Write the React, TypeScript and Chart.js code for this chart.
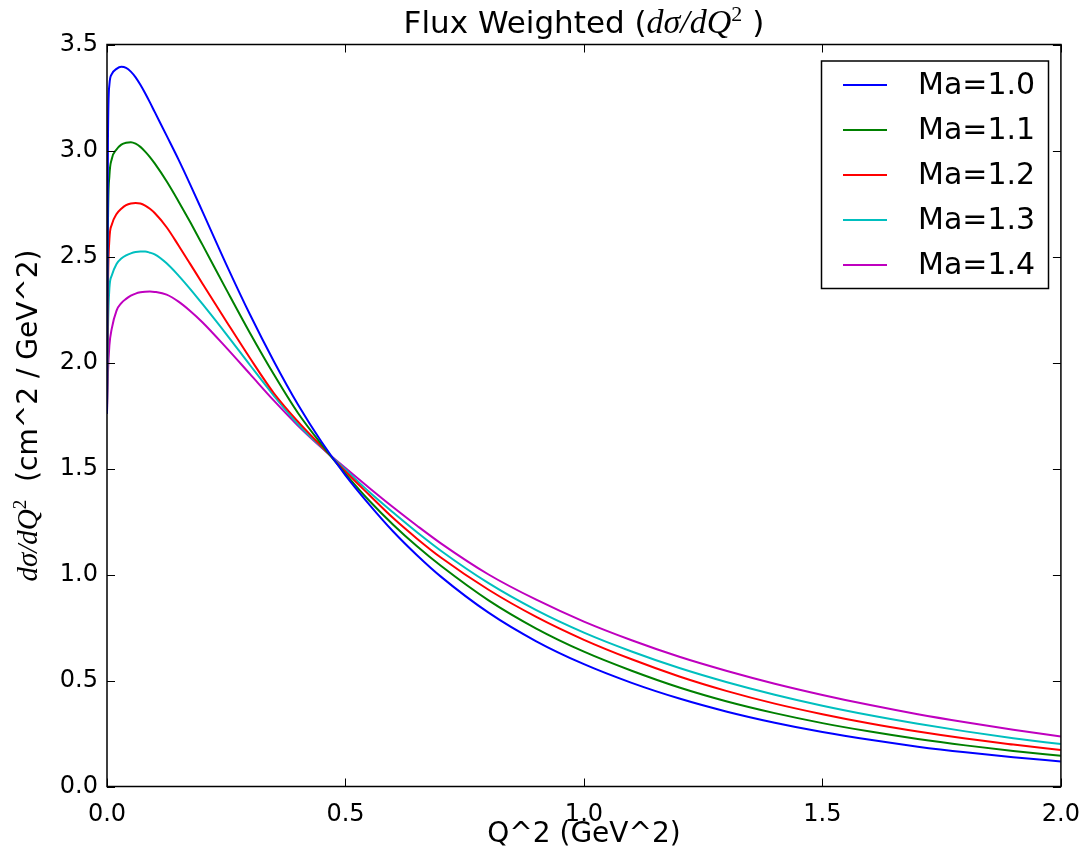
import React, { useEffect, useRef } from "react";
import { Chart, registerables } from "chart.js";

Chart.register(...registerables);

// ---- data ----
const q2 = [
  0, 0.002, 0.005, 0.01, 0.02, 0.03, 0.04, 0.05, 0.06, 0.07, 0.08, 0.09, 0.1,
  0.125, 0.15, 0.175, 0.2, 0.25, 0.3, 0.35, 0.4, 0.45, 0.5, 0.55, 0.6, 0.65,
  0.7, 0.8, 0.9, 1.0, 1.1, 1.2, 1.3, 1.4, 1.5, 1.6, 1.7, 1.8, 1.9, 2.0,
];

const ma10 = [
  1.76, 3.05, 3.31, 3.36, 3.385, 3.395, 3.39, 3.372, 3.345, 3.31, 3.27, 3.227, 3.182,
  3.07, 2.957, 2.837, 2.713, 2.463, 2.225, 2.005, 1.803, 1.625, 1.468, 1.33, 1.203, 1.091,
  0.99, 0.82, 0.685, 0.577, 0.489, 0.415, 0.353, 0.301, 0.257, 0.22, 0.188, 0.161, 0.138, 0.118,
];

const ma11 = [
  1.76, 2.65, 2.88, 2.96, 3.005, 3.028, 3.037, 3.039, 3.032, 3.017, 2.995, 2.969, 2.939,
  2.855, 2.76, 2.66, 2.556, 2.345, 2.138, 1.943, 1.763, 1.613, 1.475, 1.348, 1.235, 1.133,
  1.041, 0.878, 0.745, 0.636, 0.546, 0.467, 0.401, 0.346, 0.299, 0.259, 0.224, 0.194, 0.168, 0.145,
];

const ma12 = [
  1.76, 2.35, 2.58, 2.65, 2.7, 2.725, 2.742, 2.75, 2.752, 2.75, 2.74, 2.725, 2.705,
  2.638, 2.552, 2.463, 2.373, 2.195, 2.02, 1.855, 1.722, 1.604, 1.486, 1.375, 1.266, 1.169,
  1.08, 0.928, 0.8, 0.692, 0.6, 0.519, 0.45, 0.391, 0.341, 0.297, 0.259, 0.226, 0.198, 0.172,
];

const ma13 = [
  1.76, 2.15, 2.35, 2.41, 2.465, 2.49, 2.505, 2.515, 2.521, 2.523, 2.523, 2.518, 2.51,
  2.468, 2.41, 2.345, 2.276, 2.134, 1.987, 1.843, 1.71, 1.6, 1.495, 1.389, 1.292, 1.199,
  1.112, 0.959, 0.832, 0.726, 0.637, 0.559, 0.492, 0.433, 0.381, 0.336, 0.296, 0.26, 0.228, 0.2,
];

const ma14 = [
  1.76, 1.95, 2.08, 2.16, 2.245, 2.28, 2.3, 2.315, 2.325, 2.331, 2.334, 2.335, 2.333,
  2.32, 2.287, 2.242, 2.19, 2.07, 1.945, 1.82, 1.703, 1.598, 1.502, 1.408, 1.317, 1.23,
  1.147, 1.0, 0.881, 0.778, 0.69, 0.612, 0.545, 0.485, 0.432, 0.384, 0.341, 0.303, 0.268, 0.236,
];

const seriesLabels = ["Ma=1.0", "Ma=1.1", "Ma=1.2", "Ma=1.3", "Ma=1.4"];
const seriesValues = [ma10, ma11, ma12, ma13, ma14];
const seriesColors = ["#0000ff", "#008000", "#ff0000", "#00bfbf", "#bf00bf"];

const xTickValues = [0, 0.5, 1.0, 1.5, 2.0];
const yTickValues = [0, 0.5, 1.0, 1.5, 2.0, 2.5, 3.0, 3.5];

const titleText = "Flux Weighted (";
const titleMath = "dσ/dQ";
const titleEnd = " )";
const xLabelText = "Q^2 (GeV^2)";
const yLabelMath = "dσ/dQ";
const yLabelText = "  (cm^2 / GeV^2)";

// ---- layout ----
const W = 1086;
const H = 859;
const AREA = { left: 107, top: 44.5, right: 1062, bottom: 786.5 };
const SANS = '"DejaVu Sans", sans-serif';
const MATH = '"Liberation Serif", "DejaVu Serif", serif';

type Seg = { text: string; font: string; dy?: number };

function drawRich(ctx: CanvasRenderingContext2D, segs: Seg[], cx: number, baseY: number) {
  let total = 0;
  const widths = segs.map((s) => {
    ctx.font = s.font;
    const w = ctx.measureText(s.text).width;
    total += w;
    return w;
  });
  let x = cx - total / 2;
  ctx.textAlign = "left";
  ctx.textBaseline = "alphabetic";
  segs.forEach((s, i) => {
    ctx.font = s.font;
    ctx.fillText(s.text, x, baseY + (s.dy || 0));
    x += widths[i];
  });
}

const mplPlugin = {
  id: "mplDecor",
  afterDatasetsDraw(chart: any) {
    const ctx: CanvasRenderingContext2D = chart.ctx;
    const a = chart.chartArea;
    const xs = chart.scales.x;
    const ys = chart.scales.y;
    ctx.save();
    // inward ticks on all four sides
    ctx.strokeStyle = "#000";
    ctx.lineWidth = 1;
    ctx.beginPath();
    xs.ticks.forEach((t: any) => {
      const px = Math.round(xs.getPixelForValue(t.value)) + 0.5;
      ctx.moveTo(px, a.bottom);
      ctx.lineTo(px, a.bottom - 8);
      ctx.moveTo(px, a.top);
      ctx.lineTo(px, a.top + 8);
    });
    ys.ticks.forEach((t: any) => {
      const py = Math.round(ys.getPixelForValue(t.value)) + 0.5;
      ctx.moveTo(a.left, py);
      ctx.lineTo(a.left + 8, py);
      ctx.moveTo(a.right, py);
      ctx.lineTo(a.right - 8, py);
    });
    ctx.stroke();
    // frame
    ctx.lineWidth = 1.5;
    ctx.strokeRect(a.left, a.top, a.right - a.left, a.bottom - a.top);

    // legend
    const lx0 = 821.5, ly0 = 61, lx1 = 1048.5, ly1 = 288.5;
    ctx.fillStyle = "#fff";
    ctx.fillRect(lx0, ly0, lx1 - lx0, ly1 - ly0);
    ctx.lineWidth = 1.5;
    ctx.strokeStyle = "#000";
    ctx.strokeRect(lx0, ly0, lx1 - lx0, ly1 - ly0);
    chart.data.datasets.forEach((ds: any, i: number) => {
      const cy = 85 + i * 45;
      ctx.strokeStyle = ds.borderColor;
      ctx.lineWidth = 2;
      ctx.beginPath();
      ctx.moveTo(843, cy);
      ctx.lineTo(887, cy);
      ctx.stroke();
      ctx.fillStyle = "#000";
      ctx.font = `30px ${SANS}`;
      ctx.textAlign = "left";
      ctx.textBaseline = "middle";
      ctx.fillText(ds.label, 918, cy + 1);
    });

    // title
    ctx.fillStyle = "#000";
    const cx = (a.left + a.right) / 2;
    drawRich(
      ctx,
      [
        { text: titleText, font: `31px ${SANS}` },
        { text: titleMath, font: `italic 34px ${MATH}` },
        { text: "2", font: `22px ${MATH}`, dy: -12 },
        { text: titleEnd, font: `31px ${SANS}` },
      ],
      cx,
      33
    );
    // x label
    drawRich(ctx, [{ text: xLabelText, font: `28px ${SANS}` }], cx, 842);
    // y label (rotated)
    ctx.save();
    ctx.translate(37, (a.top + a.bottom) / 2);
    ctx.rotate(-Math.PI / 2);
    drawRich(
      ctx,
      [
        { text: yLabelMath, font: `italic 29px ${MATH}` },
        { text: "2", font: `19px ${MATH}`, dy: -11 },
        { text: yLabelText, font: `28px ${SANS}` },
      ],
      0,
      0
    );
    ctx.restore();
    ctx.restore();
  },
};

export default function App() {
  const ref = useRef<HTMLCanvasElement | null>(null);

  useEffect(() => {
    document.body.style.margin = "0";
    const canvas = ref.current;
    if (!canvas) return;
    const datasets = seriesLabels.map((label, i) => ({
      label,
      data: q2.map((x, j) => ({ x, y: seriesValues[i][j] })),
      borderColor: seriesColors[i],
      backgroundColor: seriesColors[i],
      borderWidth: 2,
      pointRadius: 0,
      fill: false,
      cubicInterpolationMode: "monotone" as const,
    }));
    const chart = new Chart(canvas, {
      type: "line",
      data: { datasets },
      options: {
        responsive: false,
        animation: false,
        devicePixelRatio: 1,
        layout: {
          padding: { left: 0, top: AREA.top, right: W - AREA.right, bottom: 0 },
        },
        plugins: {
          legend: { display: false },
          title: { display: false },
          tooltip: { enabled: false },
        },
        scales: {
          x: {
            type: "linear",
            min: 0,
            max: 2,
            afterBuildTicks: (s: any) => {
              s.ticks = xTickValues.map((v) => ({ value: v }));
            },
            afterFit: (s: any) => {
              s.height = H - AREA.bottom;
            },
            ticks: {
              callback: (v: any) => Number(v).toFixed(1),
              font: { family: SANS, size: 24 },
              color: "#000",
              padding: 6,
              maxRotation: 0,
              autoSkip: false,
            },
            grid: { display: false, tickLength: 8 },
            border: { display: false },
          },
          y: {
            type: "linear",
            min: 0,
            max: 3.5,
            afterBuildTicks: (s: any) => {
              s.ticks = yTickValues.map((v) => ({ value: v }));
            },
            afterFit: (s: any) => {
              s.width = AREA.left;
            },
            ticks: {
              callback: (v: any) => Number(v).toFixed(1),
              font: { family: SANS, size: 24 },
              color: "#000",
              padding: 1,
              autoSkip: false,
            },
            grid: { display: false, tickLength: 8 },
            border: { display: false },
          },
        },
      },
      plugins: [mplPlugin],
    });
    return () => chart.destroy();
  }, []);

  return (
    <div style={{ position: "absolute", left: 0, top: 0, width: W, height: H, background: "#fff" }}>
      <canvas ref={ref} width={W} height={H} style={{ display: "block" }} />
    </div>
  );
}
